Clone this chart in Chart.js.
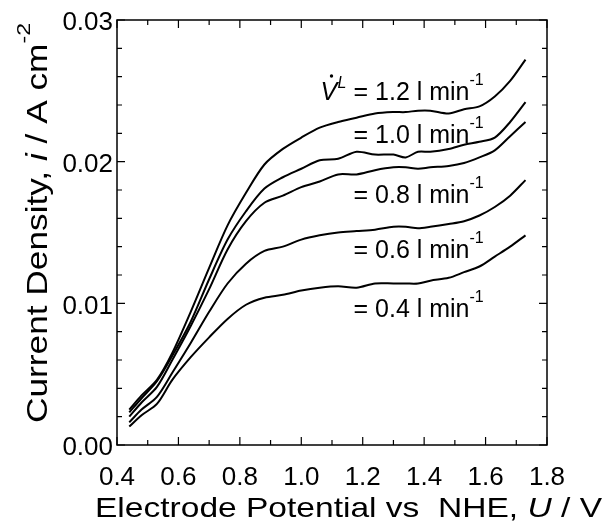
<!DOCTYPE html>
<html>
<head>
<meta charset="utf-8">
<script src="https://cdn.jsdelivr.net/npm/chart.js@4.4.1/dist/chart.umd.min.js"></script>
<style>
  html, body { margin: 0; padding: 0; background: #fff; }
  #wrap { width: 612px; height: 525px; position: relative; }
</style>
</head>
<body>
<div id="wrap"><canvas id="chart"></canvas></div>
<script>
// electrode potential U / V (vs NHE)
const potential = [0.44, 0.48, 0.53, 0.58, 0.64, 0.70, 0.76, 0.82, 0.88, 0.94, 1.00, 1.06, 1.12,
                   1.18, 1.24, 1.30, 1.34, 1.38, 1.42, 1.48, 1.53, 1.58, 1.63, 1.68, 1.73];

// current density i / A cm^-2, one array per liquid flow rate
const flow12 = [0.0025, 0.0035, 0.0046, 0.0065, 0.0094, 0.0125, 0.0155, 0.0178, 0.0198, 0.0209, 0.0217, 0.0224, 0.0228,
                0.0231, 0.0234, 0.0235, 0.0235, 0.0236, 0.0236, 0.0234, 0.0237, 0.0239, 0.0246, 0.0257, 0.0272];
const flow10 = [0.0023, 0.0033, 0.0045, 0.0063, 0.0087, 0.0117, 0.0145, 0.0165, 0.0181, 0.0189, 0.0195, 0.0201, 0.0202,
                0.0207, 0.0205, 0.0205, 0.0203, 0.0207, 0.0207, 0.0209, 0.0212, 0.0214, 0.0217, 0.0228, 0.0242];
const flow08 = [0.0020, 0.0030, 0.0041, 0.0060, 0.0084, 0.0110, 0.0138, 0.0158, 0.0171, 0.0176, 0.0182, 0.0186, 0.0191,
                0.0191, 0.0194, 0.0196, 0.0196, 0.0195, 0.0196, 0.0197, 0.0199, 0.0203, 0.0208, 0.0218, 0.0228];
const flow06 = [0.0016, 0.0025, 0.0034, 0.0051, 0.0072, 0.0094, 0.0114, 0.0128, 0.0137, 0.0140, 0.0145, 0.0148, 0.0150,
                0.0151, 0.0152, 0.0154, 0.0154, 0.0153, 0.0154, 0.0156, 0.0158, 0.0162, 0.0168, 0.0176, 0.0187];
const flow04 = [0.0013, 0.0021, 0.0029, 0.0046, 0.0062, 0.0076, 0.0089, 0.0099, 0.0104, 0.0106, 0.0109, 0.0111, 0.0112,
                0.0111, 0.0114, 0.0114, 0.0114, 0.0114, 0.0116, 0.0118, 0.0122, 0.0126, 0.0133, 0.0140, 0.0148];

const flowRates = ['1.2', '1.0', '0.8', '0.6', '0.4'];
const seriesValues = [flow12, flow10, flow08, flow06, flow04];

const xTicks = [0.4, 0.6, 0.8, 1.0, 1.2, 1.4, 1.6, 1.8];
const yTicks = [0.00, 0.01, 0.02, 0.03];

// where each flow-rate label sits (data units, left edge of "=" and baseline)
const labelU = [1.17, 1.17, 1.17, 1.17, 1.17];
const labelI = [0.02435, 0.02132, 0.0171, 0.0132, 0.00906];

const FONT = '"Liberation Sans", Arial, Helvetica, sans-serif';

function richWidth(ctx, parts) {
  let w = 0;
  for (const p of parts) { ctx.font = p.font; w += ctx.measureText(p.text).width; }
  return w;
}

function drawRich(ctx, parts, stretch) {
  ctx.save();
  ctx.scale(stretch, 1);
  let cx = 0;
  for (const p of parts) {
    ctx.font = p.font;
    ctx.fillText(p.text, cx, -(p.rise || 0));
    cx += ctx.measureText(p.text).width;
  }
  ctx.restore();
}

const framePlugin = {
  id: 'frame',
  afterDraw(chart) {
    const ctx = chart.ctx;
    const a = chart.chartArea;
    const xs = chart.scales.x, ys = chart.scales.y;
    ctx.save();
    ctx.strokeStyle = '#000';
    ctx.lineWidth = 1.5;
    ctx.strokeRect(a.left, a.top, a.right - a.left, a.bottom - a.top);

    // inward ticks on all four sides
    ctx.lineWidth = 1.2;
    ctx.beginPath();
    for (let k = 0; k <= 14; k++) {
      const px = xs.getPixelForValue(0.4 + k * 0.1);
      const len = k % 2 === 0 ? 8 : 5;
      ctx.moveTo(px, a.bottom); ctx.lineTo(px, a.bottom - len);
      ctx.moveTo(px, a.top); ctx.lineTo(px, a.top + len);
    }
    for (let k = 0; k <= 15; k++) {
      const py = ys.getPixelForValue(k * 0.002);
      const len = k % 5 === 0 ? 8 : 5;
      ctx.moveTo(a.left, py); ctx.lineTo(a.left + len, py);
      ctx.moveTo(a.right, py); ctx.lineTo(a.right - len, py);
    }
    ctx.stroke();

    ctx.fillStyle = '#000';
    ctx.textAlign = 'left';
    ctx.textBaseline = 'alphabetic';

    // flow-rate labels
    const big = '25px ' + FONT;
    const sup = '16px ' + FONT;
    flowRates.forEach((r, i) => {
      const x0 = xs.getPixelForValue(labelU[i]);
      const y0 = ys.getPixelForValue(labelI[i]);
      ctx.save();
      ctx.translate(x0, y0);
      drawRich(ctx, [
        { text: '= ' + r + ' l min', font: big },
        { text: '-1', font: sup, rise: 15 }
      ], 1);
      if (i === 0) {
        ctx.font = 'italic 25px ' + FONT;
        ctx.fillText('V', -33, 0);
        ctx.font = 'italic 16px ' + FONT;
        ctx.fillText('L', -16, -12);
        ctx.beginPath();
        ctx.arc(-22, -24, 1.7, 0, Math.PI * 2);
        ctx.fill();
      }
      ctx.restore();
    });

    // x axis title
    const xParts = [
      { text: 'Electrode Potential vs  NHE, ', font: '28px ' + FONT },
      { text: 'U', font: 'italic 28px ' + FONT },
      { text: ' / V', font: '28px ' + FONT }
    ];
    ctx.save();
    ctx.translate(95, 517);
    drawRich(ctx, xParts, 507 / richWidth(ctx, xParts));
    ctx.restore();

    // y axis title
    const yParts = [
      { text: 'Current Density, ', font: '29px ' + FONT },
      { text: 'i', font: 'italic 29px ' + FONT },
      { text: ' / A cm', font: '29px ' + FONT },
      { text: '-2', font: '19px ' + FONT, rise: 17 }
    ];
    ctx.save();
    ctx.translate(47, 423);
    ctx.rotate(-Math.PI / 2);
    drawRich(ctx, yParts, 400 / richWidth(ctx, yParts));
    ctx.restore();

    ctx.restore();
  }
};

new Chart(document.getElementById('chart'), {
  type: 'line',
  data: {
    datasets: seriesValues.map((vals, i) => ({
      label: flowRates[i],
      data: potential.map((u, k) => ({ x: u, y: vals[k] })),
      borderColor: '#000',
      borderWidth: 2,
      pointRadius: 0,
      tension: 0.3,
      fill: false
    }))
  },
  options: {
    responsive: true,
    maintainAspectRatio: false,
    animation: false,
    layout: { padding: { top: 20, right: 65, left: 0, bottom: 0 } },
    plugins: { legend: { display: false }, tooltip: { enabled: false } },
    scales: {
      x: {
        type: 'linear',
        min: 0.4,
        max: 1.8,
        afterBuildTicks: s => { s.ticks = xTicks.map(v => ({ value: v })); },
        afterFit: s => { s.height = 80; },
        ticks: {
          callback: v => v.toFixed(1),
          font: { family: FONT, size: 26 },
          color: '#000',
          padding: 17,
          maxRotation: 0,
          autoSkip: false
        },
        grid: { display: false, drawTicks: false },
        border: { display: false }
      },
      y: {
        min: 0,
        max: 0.03,
        afterBuildTicks: s => { s.ticks = yTicks.map(v => ({ value: v })); },
        afterFit: s => { s.width = 117; },
        ticks: {
          callback: v => v.toFixed(2),
          font: { family: FONT, size: 26 },
          color: '#000',
          padding: 4,
          labelOffset: 3
        },
        grid: { display: false, drawTicks: false },
        border: { display: false }
      }
    }
  },
  plugins: [framePlugin]
});
</script>
</body>
</html>
